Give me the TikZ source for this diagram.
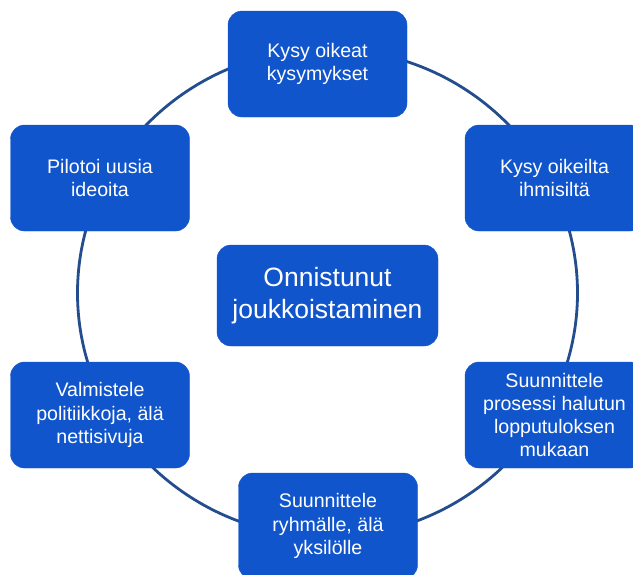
\documentclass[tikz,border=0pt]{standalone}
\usepackage{fontspec}
\setmainfont{Liberation Sans}
\usepackage{tikz}
\usetikzlibrary{positioning}
\definecolor{boxblue}{HTML}{1155CC}
\definecolor{ringblue}{HTML}{234D8D}
\tikzset{
  stepbox/.style = {rectangle, rounded corners=14pt, draw=boxblue, fill=boxblue,
                    minimum width=179pt, minimum height=106pt, align=center,
                    text=white, inner sep=2pt, font=\fontsize{19.6}{23.2}\selectfont},
  hub/.style     = {stepbox, minimum width=221pt, minimum height=101pt,
                    font=\fontsize{26.5}{31.5}\selectfont},
  ring/.style    = {draw=ringblue, line width=2.8pt}
}

\begin{document}
\begin{tikzpicture}[x=1pt, y=-1pt]
  \useasboundingbox (0,0) rectangle (633,574);
  \clip (0,0) rectangle (633,574);
  % cycle behind the boxes
  \coordinate (c) at (327.5,293);
  \draw[ring] (c) ellipse [x radius=250pt, y radius=244pt];

  \node[hub]     (mid)  at (327.5,295.5) {Onnistunut\\joukkoistaminen};
  \node[stepbox] (kysy) at (317.5,64)    {Kysy oikeat\\kysymykset};
  \node[stepbox] (ihm)  at (554.5,178)   {Kysy oikeilta\\ihmisiltä};
  \node[stepbox] (suun) at (554.5,415)   {Suunnittele\\prosessi halutun\\lopputuloksen\\mukaan};
  \node[stepbox] (ryhm) at (328,526)     {Suunnittele\\ryhmälle, älä\\yksilölle};
  \node[stepbox] (valm) at (100,415)     {Valmistele\\politiikkoja, älä\\nettisivuja};
  \node[stepbox] (pilo) at (100,178)     {Pilotoi uusia\\ideoita};
\end{tikzpicture}
\end{document}
